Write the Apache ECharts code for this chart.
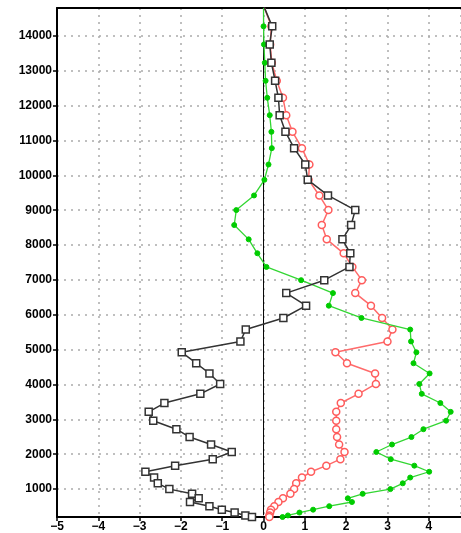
<!DOCTYPE html>
<html><head><meta charset="utf-8">
<script src="https://cdn.jsdelivr.net/npm/echarts@6/dist/echarts.min.js"></script>
<style>html,body{margin:0;padding:0;background:#fff}#c{width:461px;height:533px}</style>
</head><body><div id="c"></div>
<script>
const levels = [14810, 14274, 13756, 13229, 12712, 12224, 11726, 11248, 10780, 10311, 9872, 9423, 9003, 8574, 8164, 7764, 7373, 6993, 6622, 6261, 5909, 5577, 5236, 4924, 4611, 4318, 4016, 3733, 3469, 3216, 2962, 2718, 2493, 2279, 2064, 1859, 1673, 1498, 1332, 1166, 1000, 865, 736, 630, 510, 410, 327, 245, 200];
const blackVals = [0.02, 0.21, 0.15, 0.19, 0.28, 0.36, 0.39, 0.53, 0.74, 1.01, 1.07, 1.56, 2.22, 2.12, 1.91, 2.10, 2.08, 1.47, 0.55, 1.03, 0.48, -0.43, -0.56, -1.98, -1.63, -1.31, -1.05, -1.53, -2.40, -2.78, -2.67, -2.11, -1.79, -1.27, -0.77, -1.23, -2.14, -2.86, -2.65, -2.56, -2.28, -1.73, -1.57, -1.78, -1.31, -1.01, -0.70, -0.44, -0.28];
const redVals = [0.02, 0.19, 0.16, 0.20, 0.32, 0.47, 0.55, 0.70, 0.93, 1.11, 1.09, 1.35, 1.57, 1.41, 1.53, 1.94, 2.15, 2.38, 2.22, 2.60, 2.87, 3.12, 3.00, 1.74, 2.02, 2.70, 2.72, 2.30, 1.87, 1.76, 1.76, 1.76, 1.78, 1.83, 1.96, 1.86, 1.52, 1.15, 0.93, 0.79, 0.74, 0.65, 0.47, 0.36, 0.26, 0.18, 0.16, 0.14, 0.14];
const greenVals = [0.00, 0.00, 0.01, 0.03, 0.05, 0.09, 0.15, 0.19, 0.20, 0.12, 0.02, -0.23, -0.66, -0.71, -0.36, -0.15, 0.07, 0.91, 1.68, 1.58, 2.37, 3.55, 3.57, 3.70, 3.63, 4.02, 3.77, 3.83, 4.28, 4.53, 4.42, 3.87, 3.58, 3.11, 2.73, 3.08, 3.65, 4.01, 3.55, 3.37, 3.07, 2.40, 2.04, 2.14, 1.59, 1.20, 0.87, 0.59, 0.46];
const zeroLineLevels = [250, 14620];

const pair = vals => vals.map((v, i) => [v, levels[i]]);
const chart = echarts.init(document.getElementById('c'), null, {renderer: 'canvas'});
const labelFont = {color: '#000', fontFamily: 'Liberation Sans, Arial, sans-serif', fontWeight: 'bold', fontSize: 12};
const dotted = {show: true, lineStyle: {type: [2, 5], color: '#aaa', width: 1.5}};
const X_MIN = -5, X_MAX = 4.78;
chart.setOption({
  animation: false,
  grid: {left: 57, right: 0, top: 8, bottom: 16},
  xAxis: [{
    type: 'value', min: X_MIN, max: X_MAX, interval: 1, position: 'bottom',
    axisLine: {show: true, onZero: false, lineStyle: {color: '#000', width: 2}},
    axisTick: {show: true, length: 4, lineStyle: {color: '#000', width: 1.5}},
    axisLabel: Object.assign({}, labelFont, {margin: 4, showMaxLabel: false, formatter: v => String(v).replace('-', '\u2212')}),
    splitLine: dotted
  }, {
    type: 'value', min: X_MIN, max: X_MAX, position: 'top',
    axisLine: {show: true, onZero: false, lineStyle: {color: '#000', width: 2}},
    axisTick: {show: false}, axisLabel: {show: false}, splitLine: {show: false}
  }],
  yAxis: {
    type: 'value', min: 200, max: 14800, splitNumber: 14,
    axisLine: {show: true, onZero: false, lineStyle: {color: '#000', width: 2}},
    axisTick: {show: true, length: 4, lineStyle: {color: '#000', width: 1.5}},
    axisLabel: Object.assign({}, labelFont, {margin: 5, showMinLabel: false, showMaxLabel: false, formatter: v => String(v)}),
    splitLine: dotted
  },
  series: [
    {type: 'line', data: zeroLineLevels.map(l => [0, l]), symbol: 'none', lineStyle: {color: '#000', width: 1}, silent: true, z: 1},
    {type: 'line', data: pair(redVals), symbol: 'circle', symbolSize: 7,
      lineStyle: {color: '#ff6b6b', width: 1.5}, itemStyle: {color: '#fff', borderColor: '#ff5c5c', borderWidth: 1.5}, z: 2},
    {type: 'line', data: pair(greenVals), symbol: 'circle', symbolSize: 5,
      lineStyle: {color: '#33d633', width: 1.3}, itemStyle: {color: '#00cc00', borderColor: '#00cc00', borderWidth: 1}, z: 3},
    {type: 'line', data: pair(blackVals), symbol: 'rect', symbolSize: 7,
      lineStyle: {color: '#333', width: 1.5}, itemStyle: {color: '#fff', borderColor: '#333', borderWidth: 1.5}, z: 4}
  ]
});
</script></body></html>
